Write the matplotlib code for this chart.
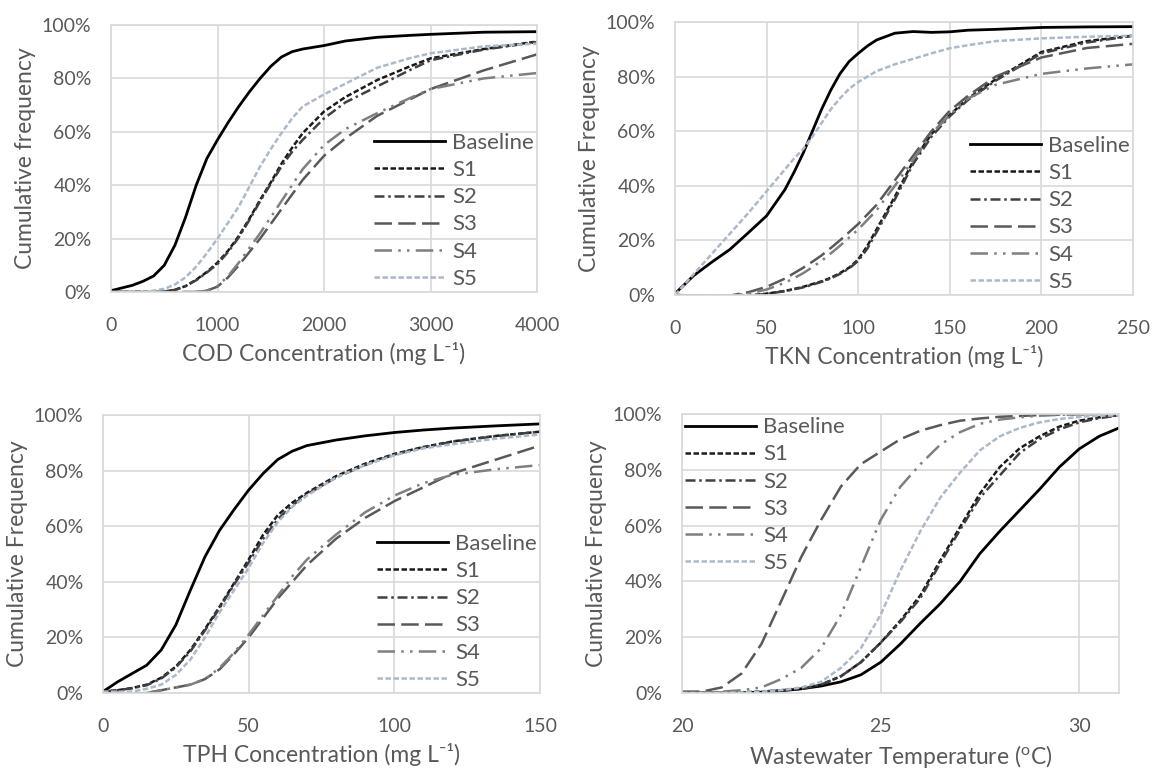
import numpy as np
import matplotlib
matplotlib.use("Agg")
import matplotlib.pyplot as plt
from matplotlib.ticker import PercentFormatter

plt.rcParams['font.family'] = ['Lato', 'DejaVu Sans']
plt.rcParams['mathtext.default'] = 'regular'

# ---- COD panel ----
cod_x = [0, 200, 300, 400, 500, 600, 700, 800, 900, 1000, 1100, 1200, 1300, 1400, 1500,
         1600, 1700, 1800, 2000, 2200, 2500, 2800, 3000, 3500, 4000]
cod_base = [0.5, 2.5, 4, 6, 10, 17.5, 28, 40, 50, 57, 63.5, 69.5, 75, 80, 84.5,
            88, 90, 91, 92.3, 94, 95.4, 96.1, 96.5, 97.3, 97.5]
cod_s1 = [0, 0, 0, 0, 0.2, 0.8, 2.2, 4.6, 7.5, 11, 15.5, 21, 27.5, 34.5, 41,
          48, 54, 59.5, 67.6, 73, 79.4, 84.4, 87.5, 91, 93.8]
cod_s2 = [0, 0, 0, 0, 0.2, 0.8, 2.2, 4.4, 7.3, 10.5, 15, 20.5, 27, 34, 40.5,
          47, 52.5, 57, 65, 71, 77, 83, 86.8, 90.8, 93.6]
cod_s3 = [0, 0, 0, 0, 0, 0, 0, 0, 0.5, 2, 5.5, 10, 15, 20, 25.5,
          31, 36.5, 42, 51, 57.5, 66, 72, 76, 83, 89]
cod_s4 = [0, 0, 0, 0, 0, 0, 0, 0, 0.5, 2.2, 6, 11, 16.5, 22, 28,
          34, 40, 46, 55, 61, 67, 72.5, 76, 80, 82]
cod_s5 = [0, 0, 0, 0.5, 1.2, 2.8, 5.5, 9.5, 14.5, 20, 26, 32, 39.5, 47, 53.5,
          59.5, 65, 69.5, 74, 78, 84, 87.5, 89.4, 92, 93]

# ---- TKN panel ----
tkn_x = [0, 10, 20, 30, 40, 50, 60, 65, 70, 75, 80, 85, 90, 95, 100, 105, 110, 120, 130,
         140, 150, 160, 175, 200, 225, 250]
tkn_base = [0.5, 7, 12, 16.7, 22.8, 29, 38.6, 45, 52, 60, 68, 75, 81, 85.5, 88.5, 91.2,
            93.4, 95.9, 96.5, 96.2, 96.4, 97, 97.3, 98, 98.2, 98.3]
tkn_s1 = [0, -0.3, -0.5, -0.5, -0.3, 0.5, 1.5, 2.2, 3, 4, 5, 6.3, 8, 10, 13, 18, 24, 36,
          49, 59, 66, 72, 79, 89, 93, 95]
tkn_s2 = [0, -0.3, -0.5, -0.5, -0.3, 0.4, 1.4, 2.1, 2.8, 3.8, 4.8, 6.1, 7.7, 9.7, 12.5,
          17, 23, 35, 48, 58, 65.5, 71.5, 78.5, 88.5, 92.5, 95]
tkn_s3 = [0, -0.2, -0.3, -0.2, 1, 3, 6, 8, 10, 12.2, 14.5, 17.2, 20, 23, 26, 29.5, 33,
          42, 51, 60, 67.5, 73, 80, 87, 90.5, 92]
tkn_s4 = [0, -0.2, -0.3, -0.2, 0.5, 2, 4.5, 6.2, 8, 10.2, 12.5, 15.2, 18, 21, 24, 27.5,
          31, 40, 49.5, 59, 66, 72, 77, 81, 83, 84.5]
tkn_s5 = [0, 7.5, 15, 22.5, 30, 38, 46, 50, 53.5, 58, 63, 68, 72, 75.5, 78, 80, 82,
          84.5, 86.5, 88.5, 90.4, 91.5, 93, 94, 94.6, 95]

# ---- TPH panel ----
tph_x = [0, 5, 10, 15, 20, 25, 30, 35, 40, 45, 50, 55, 60, 65, 70, 80, 90, 100, 110,
         120, 135, 150]
tph_base = [0.5, 4, 7, 10, 15.5, 24.5, 37, 49, 58.5, 66, 73, 79, 84, 87, 89, 91, 92.5,
            93.7, 94.6, 95.3, 96.1, 96.8]
tph_s1 = [0.5, 1, 1.8, 3, 5.5, 9.5, 15.5, 23, 31, 39.5, 48, 57, 64, 68.5, 72, 78, 82.5, 86,
          88.5, 90.5, 92.5, 94]
tph_s2 = [0.5, 1, 1.7, 2.8, 5.2, 9.2, 15, 22.5, 30.5, 39, 47, 55.5, 62.5, 67.5, 71.5, 77.5,
          82, 85.8, 88.3, 90.4, 92.4, 94]
tph_s3 = [0, -0.2, -0.3, 0, 1, 2, 3, 5, 8.5, 14, 20, 27, 34, 40, 46, 55.5, 63, 69, 74,
          79, 84, 89]
tph_s4 = [0, -0.2, -0.3, 0, 1, 2, 3, 5, 9, 14.5, 21, 28, 35, 42, 48, 57, 65, 71, 75.5,
          78.5, 80.5, 82]
tph_s5 = [0.5, 0.5, 0.5, 1.5, 3, 6.5, 12, 20, 29, 37, 45, 54, 61.5, 67, 71, 77.5, 82, 85.5,
          88, 89.5, 91.5, 93]

# ---- Temperature panel ----
tmp_x = [20, 20.5, 21, 21.5, 22, 22.5, 23, 23.5, 24, 24.5, 25, 25.5, 26, 26.5, 27, 27.5,
         28, 28.5, 29, 29.5, 30, 30.5, 31]
tmp_base = [0, 0, 0, 0.1, 0.3, 0.8, 1.5, 2.5, 4, 6.5, 11, 17.6, 25, 32, 40, 50, 58,
            65.5, 73, 81, 87.5, 92, 95]
tmp_s1 = [0, 0, 0, 0.2, 0.5, 1, 1.5, 3, 6, 11, 18, 26, 35, 47.5, 59.5, 71.5, 81, 87.7,
          92, 95.5, 97.6, 98.8, 99.6]
tmp_s2 = [0, 0, 0, 0.2, 0.5, 1, 1.5, 3, 6, 11, 18, 25.5, 34, 46.5, 58.5, 70, 78, 86,
          91, 94.5, 97, 98.5, 99.5]
tmp_s3 = [0.5, 0.5, 2, 7, 17.6, 33, 48.7, 62, 74, 82, 86.5, 91, 94, 96, 97.6, 98.4, 99,
          99.3, 99.6, 99.8, 99.9, 100, 100]
tmp_s4 = [0, 0, 0.5, 1, 2, 5, 9, 16, 28, 45, 62, 74, 82, 89, 93.5, 96.5, 98, 98.8,
          99.4, 99.7, 99.9, 100, 100]
tmp_s5 = [0, 0, 0, 0.2, 0.5, 1, 2, 4, 9, 16, 28, 44, 58, 70, 79, 87, 92, 95, 97,
          98.2, 99, 99.4, 99.5]

names = ["Baseline", "S1", "S2", "S3", "S4", "S5"]
colors = ["#000000", "#1a1a1a", "#404040", "#595959", "#7f7f7f", "#acb9ca"]
dashes = [None, (2.2, 1.0), (4, 1.5, 1, 1.5), (7, 2.5), (7, 2.5, 1, 2.5, 1, 2.5), (2.2, 1.0)]
widths = [2.0, 1.8, 1.8, 1.8, 1.8, 1.8]

text_color = "#595959"
grid_color = "#d9d9d9"

fig = plt.figure(figsize=(11.53, 7.69), dpi=100)

panels = [
    ([111, 25, 537, 292], cod_x, [cod_base, cod_s1, cod_s2, cod_s3, cod_s4, cod_s5],
     (0, 4000), [0, 1000, 2000, 3000, 4000],
     "COD Concentration (mg L\u207b\u00b9)", "Cumulative frequency", "lower right"),
    ([675, 22, 1133, 295], tkn_x, [tkn_base, tkn_s1, tkn_s2, tkn_s3, tkn_s4, tkn_s5],
     (0, 250), [0, 50, 100, 150, 200, 250],
     "TKN Concentration (mg L\u207b\u00b9)", "Cumulative Frequency", "lower right"),
    ([103, 415, 540, 693], tph_x, [tph_base, tph_s1, tph_s2, tph_s3, tph_s4, tph_s5],
     (0, 150), [0, 50, 100, 150],
     "TPH Concentration (mg L\u207b\u00b9)", "Cumulative Frequency", "lower right"),
    ([682, 414, 1119, 693], tmp_x, [tmp_base, tmp_s1, tmp_s2, tmp_s3, tmp_s4, tmp_s5],
     (20, 31), [20, 25, 30],
     "Wastewater Temperature ($^{o}$C)", "Cumulative Frequency", "upper left"),
]

W, H = 1153, 769
for box, x, series, xlim, xticks, xlabel, ylabel, loc in panels:
    x0, y0, x1, y1 = box
    ax = fig.add_axes([x0 / W, 1 - y1 / H, (x1 - x0) / W, (y1 - y0) / H])
    for i in range(6):
        ln, = ax.plot(x, series[i], color=colors[i], lw=widths[i], label=names[i])
        if dashes[i] is not None:
            ln.set_dashes(dashes[i])
    ax.set_xlim(xlim)
    ax.set_ylim(0, 100)
    ax.set_xticks(xticks)
    ax.set_yticks([0, 20, 40, 60, 80, 100])
    ax.yaxis.set_major_formatter(PercentFormatter(decimals=0))
    ax.grid(True, color=grid_color, lw=1.2)
    ax.set_axisbelow(True)
    for sp in ax.spines.values():
        sp.set_color(grid_color)
        sp.set_linewidth(1.2)
    ax.tick_params(length=0, labelsize=14, labelcolor=text_color)
    ax.tick_params(axis='x', pad=18)
    ax.tick_params(axis='y', pad=14)
    ax.set_xlabel(xlabel, fontsize=16.5, color=text_color, labelpad=6)
    ax.set_ylabel(ylabel, fontsize=16.5, color=text_color, labelpad=4)
    leg = ax.legend(loc=loc, frameon=False, fontsize=16, handlelength=3.2,
                    handletextpad=0.3, labelspacing=0.32, borderaxespad=0.0,
                    borderpad=0.15)
    for t in leg.get_texts():
        t.set_color(text_color)

fig.savefig("out.png", dpi=100)
